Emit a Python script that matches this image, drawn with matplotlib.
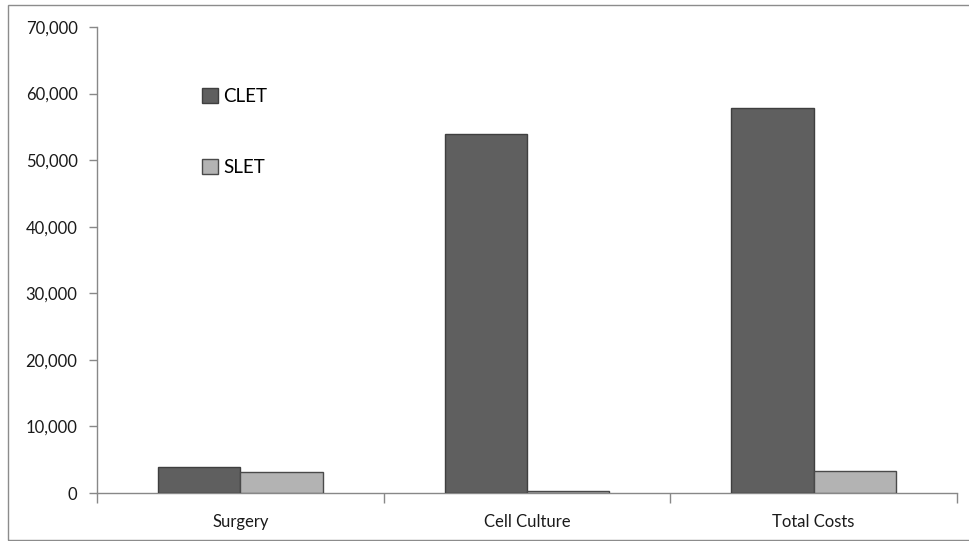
import matplotlib
matplotlib.use("Agg")
import matplotlib.pyplot as plt
from matplotlib.patches import Rectangle
import numpy as np

categories = ["Surgery", "Cell Culture", "Total Costs"]
clet = [3900, 53900, 57800]
slet = [3100, 250, 3300]
yticks = [0, 10000, 20000, 30000, 40000, 50000, 60000, 70000]
ytick_labels = ["0", "10,000", "20,000", "30,000", "40,000", "50,000", "60,000", "70,000"]

plt.rcParams['font.family'] = ['Lato', 'DejaVu Sans']

W, H = 969, 541
fig = plt.figure(figsize=(W/100, H/100), dpi=100)
fig.patches.append(Rectangle((8/W, 1/H), 970/W, 535/H, transform=fig.transFigure,
                             fill=False, edgecolor='#8c8c8c', lw=1.0))
ax = fig.add_axes([97/W, 1-493/H, (957-97)/W, (493-27)/H])

x = np.arange(len(categories))
w = 0.287
ax.bar(x - w/2, clet, w, color='#5f5f5f', edgecolor='#3f3f3f', lw=1.0, label='CLET', zorder=3)
ax.bar(x + w/2, slet, w, color='#b3b3b3', edgecolor='#4a4a4a', lw=1.0, label='SLET', zorder=3)

ax.set_xlim(-0.5, len(categories) - 0.5)
ax.set_ylim(0, 70000)
ax.set_yticks(yticks)
ax.set_yticklabels(ytick_labels, fontsize=12, color='#1a1a1a')
ax.set_xticks(x)
ax.set_xticklabels(categories, fontsize=12, color='#1a1a1a')
ax.set_xticks(np.arange(len(categories) + 1) - 0.5, minor=True)
ax.tick_params(axis='x', which='major', length=0, pad=15)
ax.tick_params(axis='x', which='minor', length=7, color='#888888', width=1)
ax.tick_params(axis='y', length=6, color='#888888', width=1, pad=8)

for s in ['top', 'right']:
    ax.spines[s].set_visible(False)
for s in ['left', 'bottom']:
    ax.spines[s].set_color('#888888')
    ax.spines[s].set_linewidth(1)

leg = ax.legend(loc='upper left', bbox_to_anchor=(0.102, 0.905), frameon=False,
                fontsize=13.5, handlelength=0.85, handleheight=0.85,
                handletextpad=0.3, labelspacing=2.85)

fig.savefig("out.png", dpi=100)
